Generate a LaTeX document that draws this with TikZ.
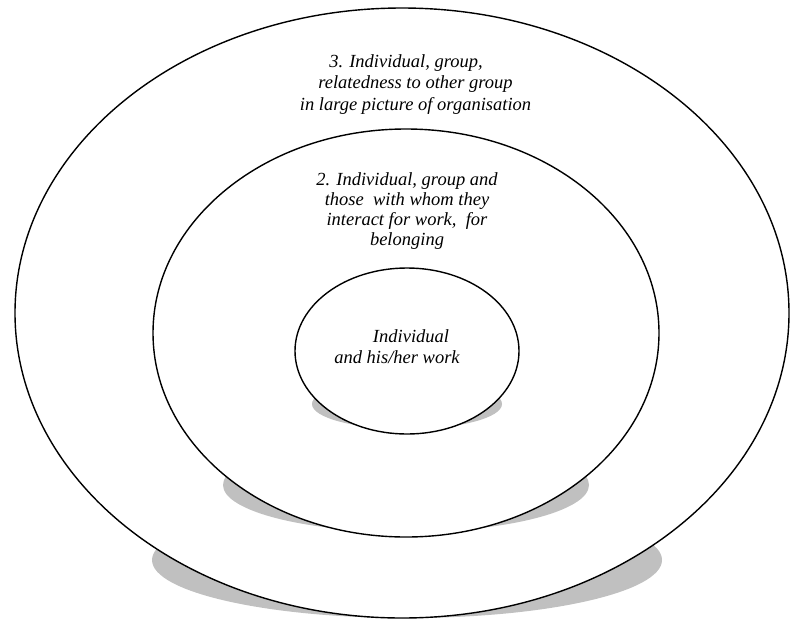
\documentclass[tikz,border=0pt]{standalone}
\usepackage{fontspec}
\setmainfont{Liberation Serif}
\definecolor{shadegray}{RGB}{192,192,192}
\begin{document}
\begin{tikzpicture}[x=1pt,y=-1pt,
  ring/.style={draw=black, fill=white, line width=1.4pt},
  floorshade/.style={fill=shadegray},
  caption/.style={font=\fontsize{18.5}{21.5}\selectfont\itshape, align=center,
                  anchor=base, inner sep=0pt}]
\useasboundingbox (0,0) rectangle (792,619);

% outer ring: organisation as a whole
\fill[floorshade] (407,560) ellipse [x radius=255, y radius=58];
\draw[ring] (402,313) ellipse [x radius=387, y radius=305];

% middle ring: group and its working relations
\fill[floorshade] (406,485) ellipse [x radius=183, y radius=47];
\draw[ring] (406,333) ellipse [x radius=253, y radius=204];

% inner ring: the individual
\fill[floorshade] (407,404) ellipse [x radius=95, y radius=25];
\draw[ring] (407,351) ellipse [x radius=112, y radius=83];

% captions are placed by the baseline of their last line
\node[caption] (outertext) at (415.5,110)
  {3. Individual, group,\hspace*{19pt}\\ relatedness to other group\\ in large picture of organisation};
\node[caption, font=\fontsize{18.5}{20}\selectfont\itshape] (middletext) at (407,245)
  {2. Individual, group and\\ those\ \ with whom they\\ interact for work,\ \ for\\ belonging};
\node[caption, font=\fontsize{18.5}{21}\selectfont\itshape] (innertext) at (404,363)
  {\hspace*{14pt}Individual\\ and his/her work\hspace*{14pt}};
\end{tikzpicture}
\end{document}
